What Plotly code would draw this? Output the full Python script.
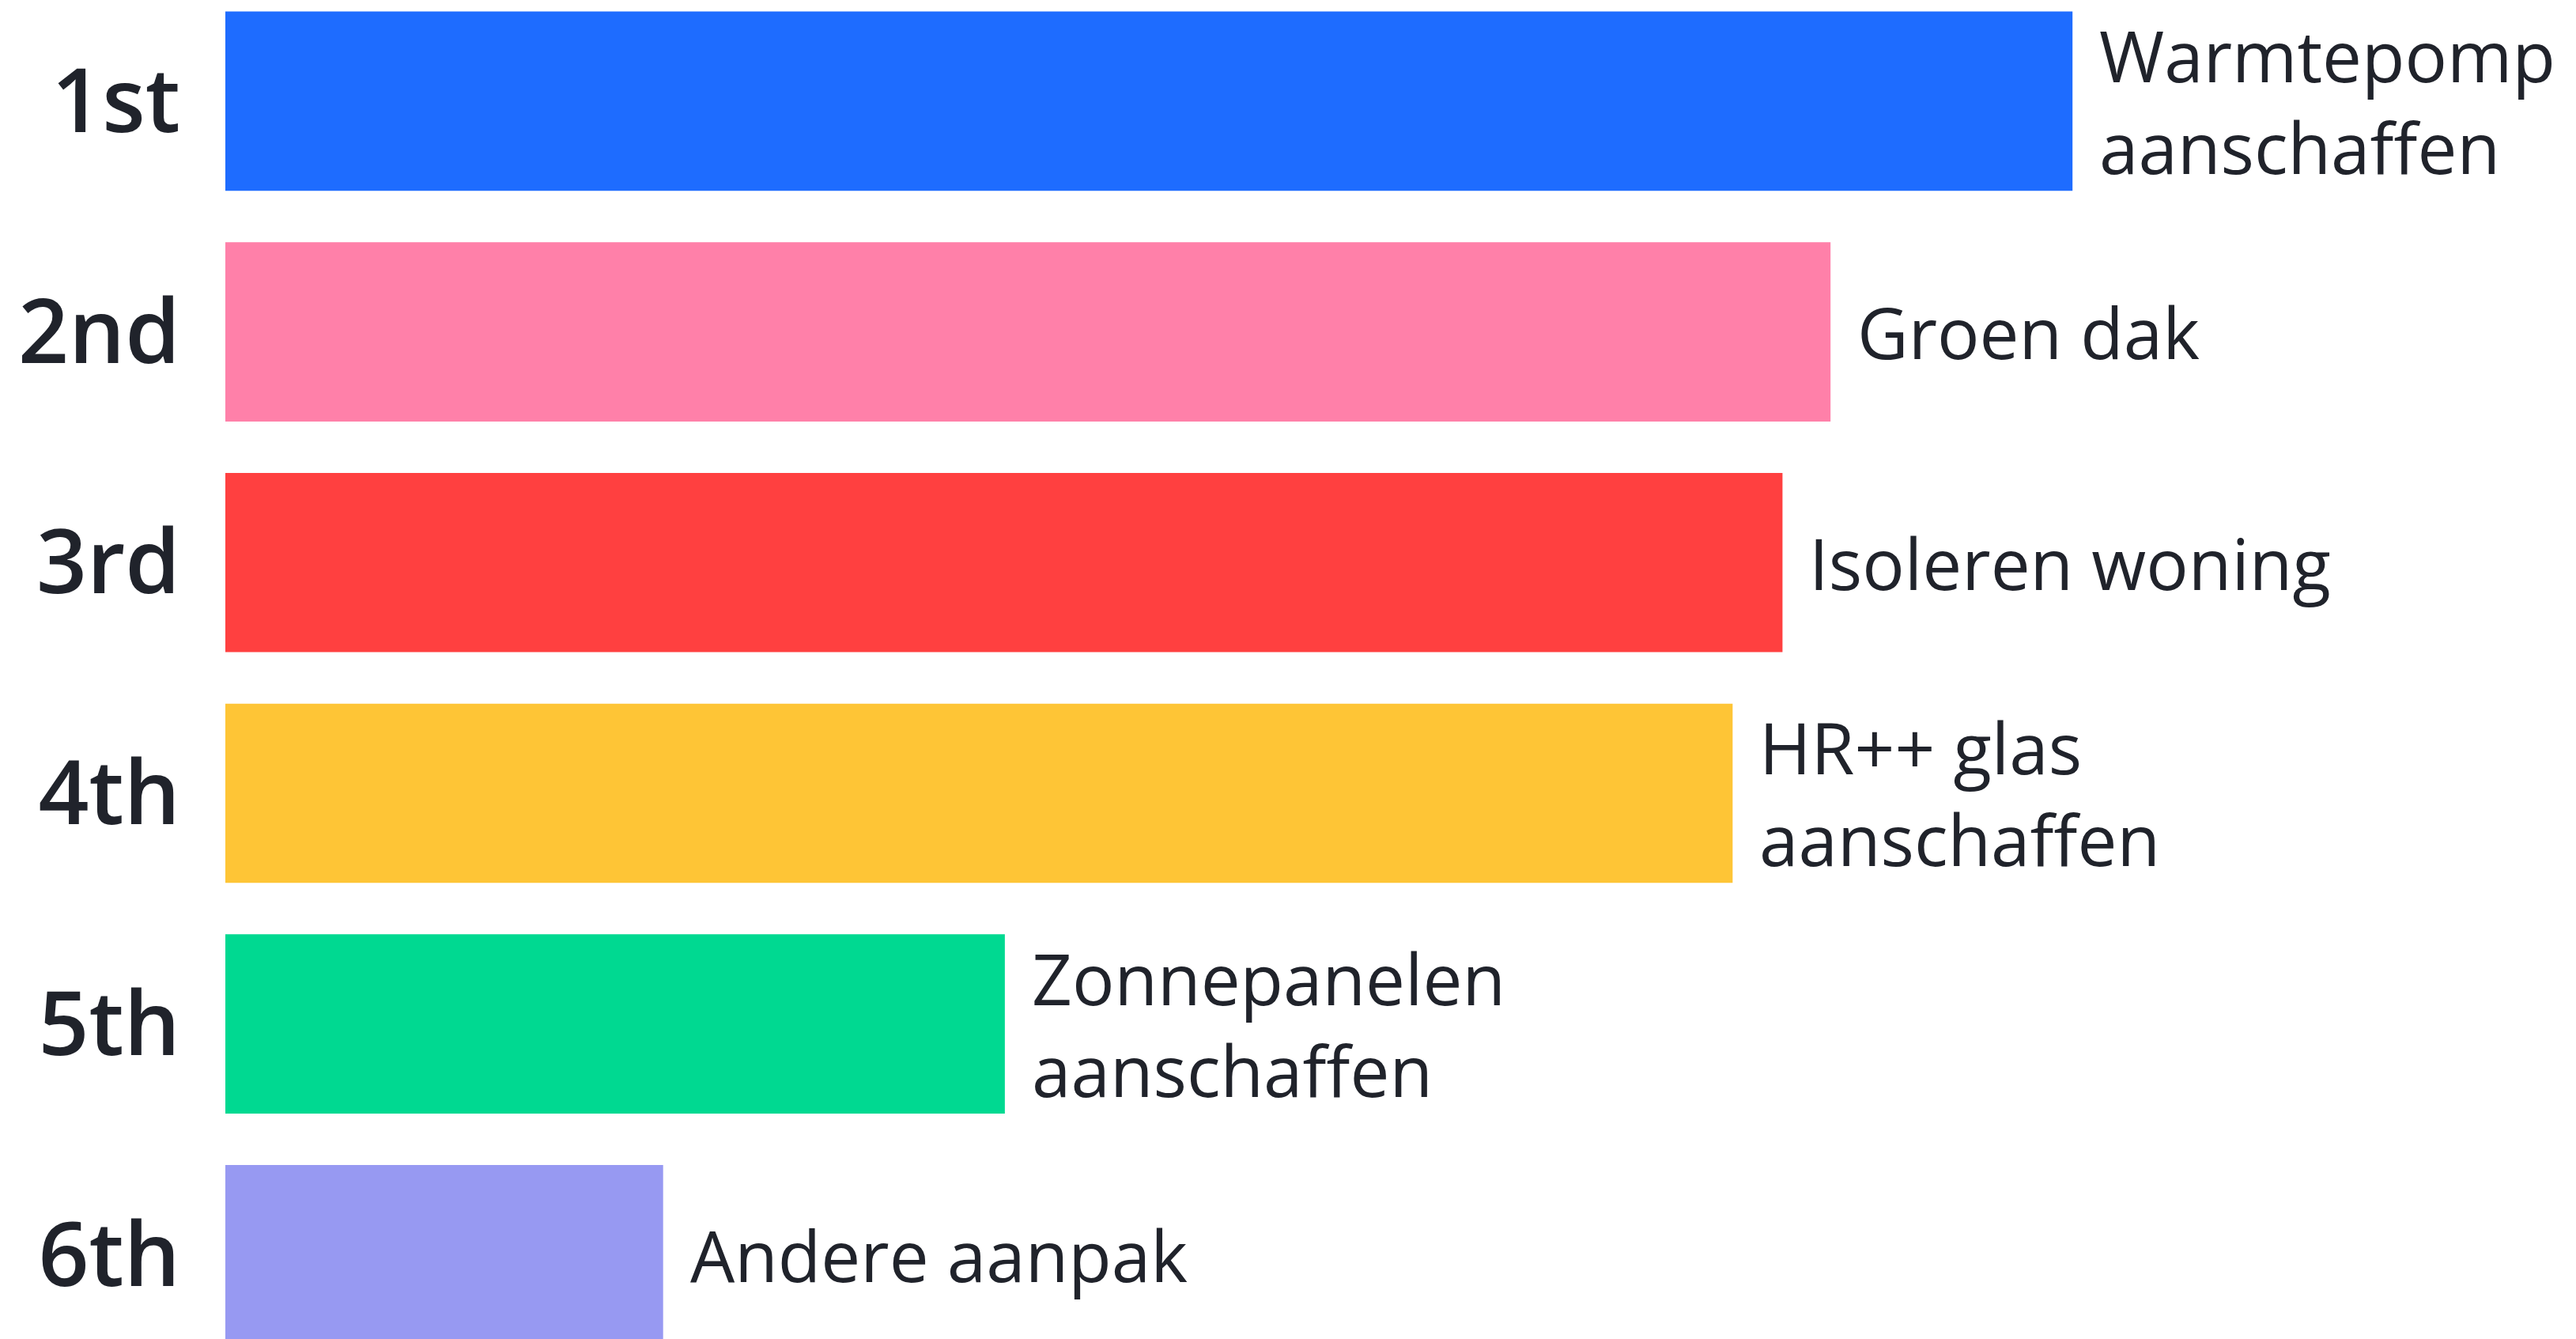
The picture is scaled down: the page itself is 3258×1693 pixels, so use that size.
import plotly.graph_objects as go

ranks = ["1st", "2nd", "3rd", "4th", "5th", "6th"]
labels = [
    "Warmtepomp<br>aanschaffen",
    "Groen dak",
    "Isoleren woning",
    "HR++ glas<br>aanschaffen",
    "Zonnepanelen<br>aanschaffen",
    "Andere aanpak",
]
scores = [100, 86.9, 84.3, 81.6, 42.2, 23.7]
colors = ["#1e6cff", "#ff80a9", "#ff4040", "#fec536", "#00d991", "#9799f2"]

TEXT = "#20232b"

fig = go.Figure()
fig.add_trace(
    go.Bar(
        x=scores,
        y=ranks,
        orientation="h",
        marker=dict(color=colors, line=dict(width=0)),
        hoverinfo="skip",
    )
)

for rank, label, score in zip(ranks, labels, scores):
    fig.add_annotation(
        x=score,
        y=rank,
        text=label,
        showarrow=False,
        xanchor="left",
        yanchor="middle",
        align="left",
        xshift=32,
        font=dict(family="Open Sans", size=89, color=TEXT),
    )

fig.update_layout(
    width=3258,
    height=1693,
    margin=dict(l=277, r=0, t=0, b=0),
    paper_bgcolor="white",
    plot_bgcolor="white",
    bargap=0.223,
    showlegend=False,
    xaxis=dict(
        range=[0, 127.6],
        visible=False,
        showgrid=False,
        zeroline=False,
    ),
    yaxis=dict(
        categoryorder="array",
        categoryarray=ranks,
        range=[5.393, -0.411],
        showgrid=False,
        zeroline=False,
        showline=False,
        ticks="",
        ticklabelstandoff=56,
        tickfont=dict(family="Open Sans", size=112, color=TEXT, weight=600),
    ),
)

fig.write_html("out.html")
